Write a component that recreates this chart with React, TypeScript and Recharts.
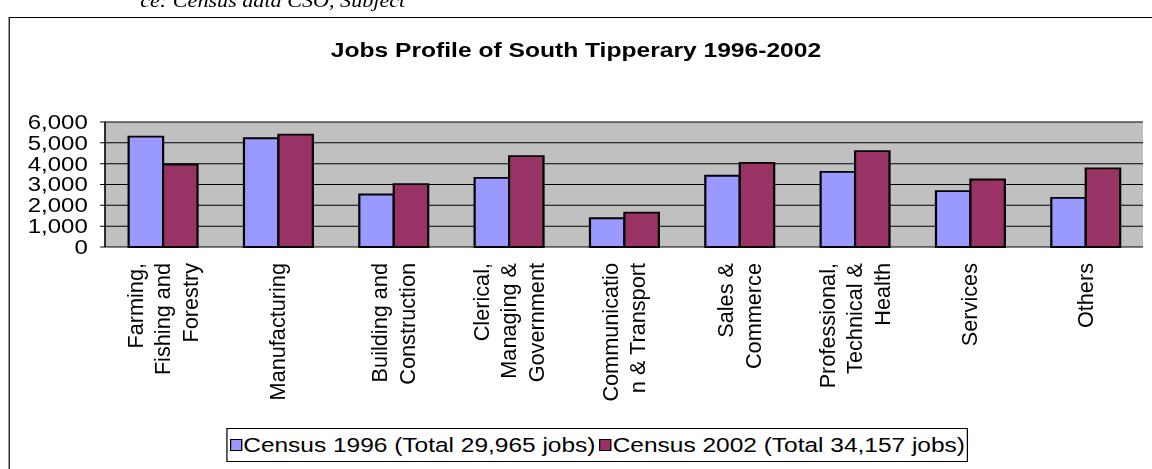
import React from 'react';
import { BarChart, Bar, XAxis, YAxis, CartesianGrid, Legend } from 'recharts';

// ---- data ----
const categories = [
  'Farming,\nFishing and\nForestry',
  'Manufacturing',
  'Building and\nConstruction',
  'Clerical,\nManaging &\nGovernment',
  'Communicatio\nn & Transport',
  'Sales &\nCommerce',
  'Professional,\nTechnical &\nHealth',
  'Services',
  'Others',
];
const census1996 = [5300, 5220, 2520, 3320, 1380, 3420, 3610, 2680, 2360];
const census2002 = [3960, 5390, 3020, 4360, 1650, 4040, 4600, 3240, 3770];
const yTicks = [0, 1000, 2000, 3000, 4000, 5000, 6000];
const boundaryTicks = [0, 1, 2, 3, 4, 5, 6, 7, 8, 9];
const seriesNames = ['Census 1996 (Total 29,965 jobs)', 'Census 2002 (Total 34,157 jobs)'];
const chartTitle = 'Jobs Profile of South Tipperary 1996-2002';
const sourceNote = 'ce: Census data  CSO, Subject';

const colors = ['#9999FF', '#993366'];

const data = categories.map((name, i) => ({ name, c1996: census1996[i], c2002: census2002[i] }));

// the reference's horizontal text is wider than usual; draw at logical width and scale
const S = 1.23;
const W = 1152 / S;
const H = 469;
const FONT = '"Liberation Sans", Arial, sans-serif';
const LINE = 27.5;

const CategoryTick = (props: any) => {
  const { x, y, payload } = props;
  const lines = String(payload.value).split('\n');
  const n = lines.length;
  return (
    <g transform={`translate(${x},${y}) scale(${1 / S},1)`}>
      <text transform="rotate(-90)" textAnchor="end" fontSize={21.7} fontFamily={FONT} fill="#000">
        {lines.map((l, i) => (
          <tspan key={i} x={0} y={(i - (n - 1) / 2) * LINE} dominantBaseline="central">
            {l}
          </tspan>
        ))}
      </text>
    </g>
  );
};

const renderLegend = () => (
  <div
    style={{
      display: 'flex',
      alignItems: 'center',
      height: '100%',
      border: '1px solid #000',
      background: '#fff',
      boxSizing: 'border-box',
      paddingLeft: 2,
      fontFamily: FONT,
      fontSize: 19.9,
      color: '#000',
      whiteSpace: 'nowrap',
    }}
  >
    {seriesNames.map((n, i) => (
      <span key={i} style={{ display: 'flex', alignItems: 'center', marginRight: 3 }}>
        <span
          style={{
            display: 'inline-block',
            width: 10,
            height: 12,
            border: '1.5px solid #000',
            background: colors[i],
            boxSizing: 'border-box',
            marginRight: 1,
          }}
        />
        {n}
      </span>
    ))}
  </div>
);

export default function App() {
  return (
    <div style={{ position: 'absolute', left: 0, top: 0, width: 1152, height: H, overflow: 'hidden', background: '#fff' }}>
      <div style={{ position: 'absolute', left: 0, top: 0, width: W, height: H, transform: `scaleX(${S})`, transformOrigin: '0 0' }}>
        <div
          style={{
            position: 'absolute',
            left: 114,
            top: -10,
            fontFamily: '"Liberation Serif", "Times New Roman", serif',
            fontStyle: 'italic',
            fontSize: 18,
            lineHeight: '22px',
            whiteSpace: 'nowrap',
            color: '#000',
          }}
        >
          {sourceNote}
        </div>
        <div
          style={{
            position: 'absolute',
            left: 8 / S,
            top: 17,
            width: 2000,
            height: 1000,
            border: '1.5px solid #000',
            boxSizing: 'border-box',
          }}
        />
        <div
          style={{
            position: 'absolute',
            left: 0,
            top: 40,
            width: W,
            textAlign: 'center',
            fontFamily: FONT,
            fontWeight: 'bold',
            fontSize: 20,
            lineHeight: '20px',
            color: '#000',
          }}
        >
          {chartTitle}
        </div>
        <div style={{ position: 'absolute', left: 0, top: 0 }}>
          <BarChart
            width={W}
            height={H}
            data={data}
            margin={{ top: 122, right: W - 1143 / S, bottom: 22, left: 5 }}
            barCategoryGap="20.5%"
            barGap={0}
          >
            <CartesianGrid vertical={false} stroke="#000" strokeWidth={1} fill="#C0C0C0" fillOpacity={1} />
            <XAxis
              xAxisId="edges"
              type="number"
              domain={[0, 9]}
              allowDataOverflow
              ticks={boundaryTicks}
              interval={0}
              tick={false}
              tickSize={6}
              tickLine={{ stroke: '#000', strokeWidth: 1 }}
              axisLine={{ stroke: '#000', strokeWidth: 1.3 }}
              height={0}
            />
            <XAxis
              dataKey="name"
              type="category"
              interval={0}
              axisLine={false}
              tickLine={false}
              tickSize={0}
              tickMargin={16}
              tick={<CategoryTick />}
              height={200}
            />
            <XAxis
              xAxisId="top"
              orientation="top"
              type="number"
              domain={[0, 1]}
              allowDataOverflow
              tick={false}
              tickLine={false}
              axisLine={{ stroke: '#808080', strokeWidth: 2 }}
              height={0}
            />
            <YAxis
              domain={[0, 6000]}
              ticks={yTicks}
              interval={0}
              width={1 + 105 / S - 6}
              tickSize={4}
              tickMargin={10}
              tickFormatter={(v: number) => v.toLocaleString('en-US')}
              tick={{ fill: '#000', fontSize: 19.5, fontFamily: FONT }}
              tickLine={{ stroke: '#000', strokeWidth: 1 }}
              axisLine={{ stroke: '#000', strokeWidth: 1.3 }}
            />
            <YAxis
              yAxisId="right"
              orientation="right"
              domain={[0, 1]}
              allowDataOverflow
              tick={false}
              tickLine={false}
              axisLine={{ stroke: '#808080', strokeWidth: 1.6 }}
              width={0}
            />
            <Legend
              layout="horizontal"
              verticalAlign="middle"
              align="center"
              content={renderLegend}
              wrapperStyle={{ position: 'absolute', left: 226 / S, top: 428, width: (968 - 226) / S, height: 34 }}
            />
            <Bar dataKey="c1996" name={seriesNames[0]} fill={colors[0]} stroke="#000" strokeWidth={1.8} isAnimationActive={false} />
            <Bar dataKey="c2002" name={seriesNames[1]} fill={colors[1]} stroke="#000" strokeWidth={1.8} isAnimationActive={false} />
          </BarChart>
        </div>
      </div>
    </div>
  );
}
